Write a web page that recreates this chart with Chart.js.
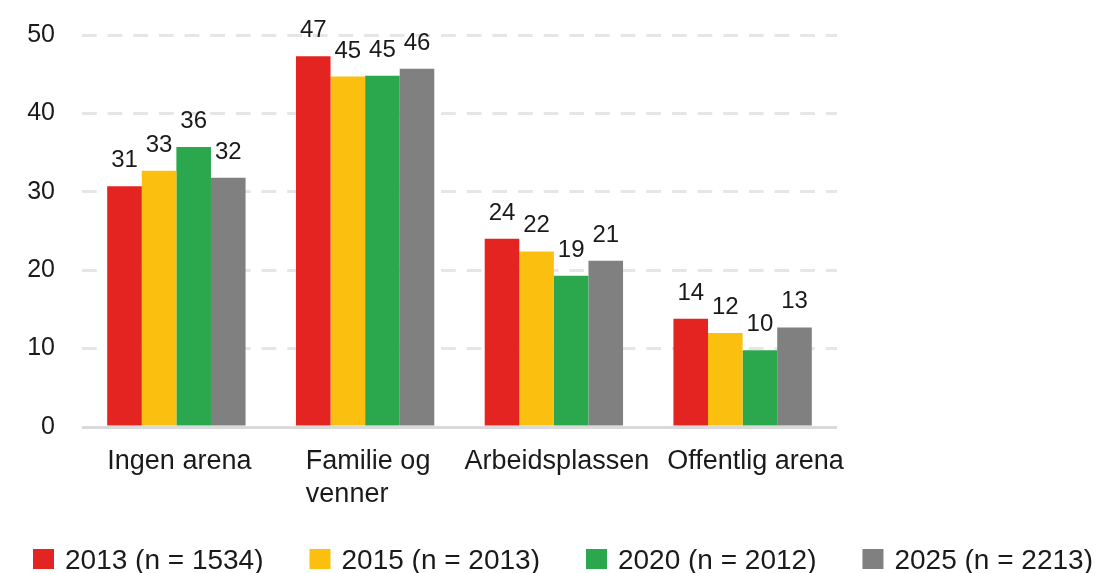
<!DOCTYPE html>
<html><head><meta charset="utf-8">
<script src="https://cdn.jsdelivr.net/npm/chart.js@4.4.1/dist/chart.umd.min.js"></script>
<style>html,body{margin:0;padding:0;background:#fff;} canvas{display:block;}</style>
</head><body>
<canvas id="c" width="1113" height="573"></canvas>
<script>
const categories = ['Ingen arena', ['Familie og', 'venner'], 'Arbeidsplassen', 'Offentlig arena'];
const seriesNames = ['2013 (n = 1534)', '2015 (n = 2013)', '2020 (n = 2012)', '2025 (n = 2213)'];
const values2013 = [30.7, 47.3, 24.0, 13.8];
const values2015 = [32.7, 44.7, 22.4, 12.0];
const values2020 = [35.7, 44.8, 19.3, 9.8];
const values2025 = [31.8, 45.7, 21.2, 12.7];
const yTicks = [0, 10, 20, 30, 40, 50];
const colors = ['#e42421', '#fbbf0f', '#2ba84e', '#808080'];

const FONT = "'Liberation Sans', Arial, Helvetica, sans-serif";
const TEXT = '#1a1a1a';
const seriesValues = [values2013, values2015, values2020, values2025];

const dataLabels = {
  id: 'dataLabels',
  afterDatasetsDraw(chart) {
    const ctx = chart.ctx;
    ctx.save();
    ctx.font = '24px ' + FONT;
    ctx.fillStyle = TEXT;
    ctx.textAlign = 'center';
    ctx.textBaseline = 'alphabetic';
    chart.data.datasets.forEach((ds, i) => {
      chart.getDatasetMeta(i).data.forEach((bar, j) => {
        ctx.fillText(String(Math.round(ds.data[j])), bar.x, bar.y - 19);
      });
    });
    ctx.restore();
  }
};

// category labels: multi-line labels are left-aligned as a block centred on the group,
// and a label is pushed right if it would collide with the previous one
const categoryLabels = {
  id: 'categoryLabels',
  afterDraw(chart) {
    const ctx = chart.ctx;
    const xs = chart.scales.x;
    const base = chart.chartArea.bottom;
    ctx.save();
    ctx.font = '27px ' + FONT;
    ctx.fillStyle = TEXT;
    ctx.textAlign = 'left';
    ctx.textBaseline = 'alphabetic';
    let prevRight = -Infinity;
    chart.data.labels.forEach((lab, i) => {
      const lines = Array.isArray(lab) ? lab : [lab];
      const w = Math.max(...lines.map(l => ctx.measureText(l).width));
      let left = xs.getPixelForTick(i) + 3 - w / 2;
      if (left < prevRight + 18) left = prevRight + 18;
      lines.forEach((l, k) => ctx.fillText(l, left, base + 42 + k * 33));
      prevRight = left + w;
    });
    ctx.restore();
  }
};

const customLegend = {
  id: 'customLegend',
  afterDraw(chart) {
    const ctx = chart.ctx;
    ctx.save();
    ctx.font = '28px ' + FONT;
    ctx.textBaseline = 'alphabetic';
    ctx.textAlign = 'left';
    let x = 33;
    chart.data.datasets.forEach((ds) => {
      ctx.fillStyle = ds.backgroundColor;
      ctx.fillRect(x, 549, 21, 20);
      ctx.fillStyle = TEXT;
      ctx.fillText(ds.label, x + 32, 569);
      x += 32 + ctx.measureText(ds.label).width + 46;
    });
    ctx.restore();
  }
};

new Chart(document.getElementById('c'), {
  type: 'bar',
  data: {
    labels: categories,
    datasets: seriesNames.map((name, i) => ({
      label: name,
      data: seriesValues[i],
      backgroundColor: colors[i],
      borderWidth: 0,
      categoryPercentage: 0.733,
      barPercentage: 1.0
    }))
  },
  options: {
    responsive: false,
    devicePixelRatio: 1,
    animation: false,
    layout: { padding: { top: 35, right: 276, left: 0, bottom: 0 } },
    plugins: { legend: { display: false }, tooltip: { enabled: false } },
    scales: {
      x: {
        grid: { display: false, drawTicks: false },
        border: { display: false },
        ticks: { display: false },
        afterFit(s) { s.height = 573 - 427; }
      },
      y: {
        min: 0, max: 50,
        afterBuildTicks(s) { s.ticks = yTicks.map(v => ({ value: v })); },
        grid: {
          drawTicks: false,
          lineWidth: 3,
          color: (c) => (c.tick && c.tick.value === 0) ? '#dadada' : '#e6e6e6'
        },
        border: {
          display: false,
          dash: (c) => (c.tick && c.tick.value === 0) ? [] : [14.7, 10.95]
        },
        ticks: { color: TEXT, font: { family: FONT, size: 25 }, padding: 27 },
        afterFit(s) { s.width = 82; s.paddingTop = 0; s.paddingBottom = 0; }
      }
    }
  },
  plugins: [dataLabels, categoryLabels, customLegend]
});
</script>
</body></html>
